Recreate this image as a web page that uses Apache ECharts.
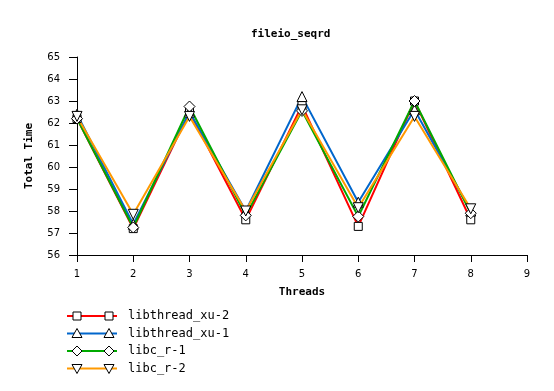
<!DOCTYPE html>
<html><head><meta charset="utf-8">
<script src="https://cdn.jsdelivr.net/npm/echarts@6/dist/echarts.min.js"></script>
<style>html,body{margin:0;padding:0;background:#fff}#c{width:554px;height:391px}</style>
</head><body><div id="c"></div>
<script>
const threads = [1, 2, 3, 4, 5, 6, 7, 8];
const seriesNames = ['libthread_xu-2', 'libthread_xu-1', 'libc_r-1', 'libc_r-2'];
const xu2 = [62.2, 57.2, 62.5, 57.6, 62.8, 57.3, 63.0, 57.6];
const xu1 = [62.4, 57.4, 62.5, 58.0, 63.2, 58.4, 62.6, 58.0];
const cr1 = [62.2, 57.25, 62.75, 57.8, 62.55, 57.75, 63.0, 57.9];
const cr2 = [62.3, 57.85, 62.3, 58.0, 62.6, 58.15, 62.3, 58.1];
const yTicks = [56, 57, 58, 59, 60, 61, 62, 63, 64, 65];
const xTicks = [1, 2, 3, 4, 5, 6, 7, 8, 9];

const colors = ['#ff0000', '#0066cc', '#00aa00', '#ff9900'];
const downTri = 'path://M0,0 L10,0 L5,10 Z';
const symbols = ['rect', 'triangle', 'diamond', downTri];
const sizes = [8, 10, 11, 10];
const allData = [xu2, xu1, cr1, cr2];

const series = [];
allData.forEach((vals, i) => {
  series.push({
    name: seriesNames[i], type: 'line', data: threads.map((t, k) => [t, vals[k]]),
    showSymbol: false, symbol: 'none', lineStyle: {color: colors[i], width: 2}, z: 2, animation: false
  });
});
allData.forEach((vals, i) => {
  series.push({
    name: seriesNames[i] + '_m', type: 'scatter', data: threads.map((t, k) => [t, vals[k]]),
    symbol: symbols[i], symbolSize: sizes[i],
    itemStyle: {color: '#fff', borderColor: '#000', borderWidth: 1, opacity: 1}, z: 3, animation: false
  });
});

const graphics = [];
seriesNames.forEach((n, i) => {
  const y = 316 + i * 17.5;
  graphics.push({type: 'line', shape: {x1: 67, y1: y, x2: 117, y2: y}, style: {stroke: colors[i], lineWidth: 2}});
  [77, 109].forEach(x => {
    if (i === 0) graphics.push({type: 'rect', shape: {x: x - 4, y: y - 4, width: 8, height: 8}, style: {fill: '#fff', stroke: '#000', lineWidth: 1}});
    else if (i === 1) graphics.push({type: 'polygon', shape: {points: [[x, y - 5], [x + 5, y + 4], [x - 5, y + 4]]}, style: {fill: '#fff', stroke: '#000', lineWidth: 1}});
    else if (i === 2) graphics.push({type: 'polygon', shape: {points: [[x, y - 5], [x + 5, y], [x, y + 5], [x - 5, y]]}, style: {fill: '#fff', stroke: '#000', lineWidth: 1}});
    else graphics.push({type: 'polygon', shape: {points: [[x - 5, y - 4], [x + 5, y - 4], [x, y + 5]]}, style: {fill: '#fff', stroke: '#000', lineWidth: 1}});
  });
  graphics.push({type: 'text', x: 128, y: y, style: {text: n, fill: '#000', font: '12px "DejaVu Sans Mono"', verticalAlign: 'middle'}});
});

const chart = echarts.init(document.getElementById('c'), null, {renderer: 'canvas'});
chart.setOption({
  backgroundColor: '#fff',
  animation: false,
  title: {text: 'fileio_seqrd', left: 246, top: 24, textStyle: {fontFamily: 'DejaVu Sans Mono', fontWeight: 'bold', fontSize: 11, color: '#000'}},
  grid: {left: 77, right: 27, top: 57, bottom: 136},
  xAxis: {
    type: 'value', min: 1, max: 9, interval: 1, name: 'Threads', nameLocation: 'middle', nameGap: 32,
    nameTextStyle: {fontFamily: 'DejaVu Sans Mono', fontWeight: 'bold', fontSize: 11, color: '#000'},
    axisLine: {lineStyle: {color: '#000', width: 1}}, axisTick: {show: true, length: 7, lineStyle: {color: '#000'}},
    axisLabel: {color: '#000', fontFamily: 'DejaVu Sans', fontSize: 10, margin: 14, formatter: v => xTicks.includes(v) ? String(v) : ''},
    splitLine: {show: false}
  },
  yAxis: {
    type: 'value', min: 56, max: 65, interval: 1, name: 'Total Time', nameLocation: 'middle', nameGap: 42, nameRotate: 90,
    nameTextStyle: {fontFamily: 'DejaVu Sans Mono', fontWeight: 'bold', fontSize: 11, color: '#000'},
    axisLine: {show: true, lineStyle: {color: '#000', width: 1}}, axisTick: {show: true, length: 8, lineStyle: {color: '#000'}},
    axisLabel: {color: '#000', fontFamily: 'DejaVu Sans', fontSize: 10, margin: 17, formatter: v => yTicks.includes(v) ? String(v) : ''},
    splitLine: {show: false}
  },
  series: series,
  graphic: graphics
});
</script></body></html>
